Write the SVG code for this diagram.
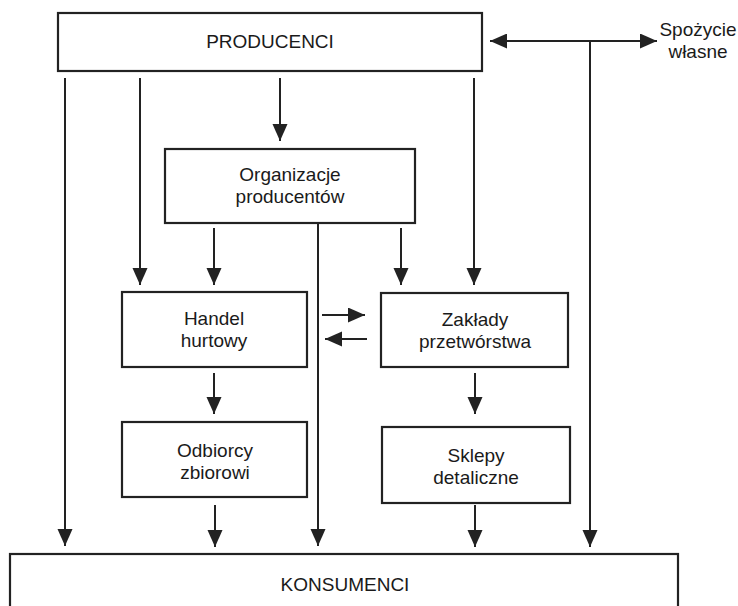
<svg xmlns="http://www.w3.org/2000/svg" width="738" height="606" viewBox="0 0 738 606">
<style>
.box{fill:#fff;stroke:#222;stroke-width:2.2}
.lbl{font-family:"Liberation Sans",Arial,sans-serif;font-size:19px;fill:#1a1a1a;text-anchor:middle}
.cn{stroke:#222;stroke-width:2;fill:none}
.ar{marker-end:url(#ah)}
</style>
<defs>
<marker id="ah" markerUnits="userSpaceOnUse" markerWidth="18" markerHeight="16" refX="17" refY="7.5" orient="auto">
<path d="M0,0 L17,7.5 L0,15 z" fill="#222"/>
</marker>
<marker id="ahs" markerUnits="userSpaceOnUse" markerWidth="18" markerHeight="16" refX="1" refY="7.5" orient="auto">
<path d="M18,0 L1,7.5 L18,15 z" fill="#222"/>
</marker>
</defs>
<rect width="738" height="606" fill="#fff"/>
<g id="connectors">
<line class="cn ar" x1="65" y1="78" x2="65" y2="546"/>
<line class="cn ar" x1="140" y1="78" x2="140" y2="285"/>
<line class="cn ar" x1="280" y1="78" x2="280" y2="141"/>
<line class="cn ar" x1="474" y1="78" x2="474" y2="285"/>
<line class="cn ar" x1="214" y1="228" x2="214" y2="285"/>
<line class="cn ar" x1="401" y1="228" x2="401" y2="285"/>
<line class="cn ar" x1="318" y1="223" x2="318" y2="546"/>
<line class="cn ar" x1="322" y1="315" x2="365" y2="315"/>
<line class="cn ar" x1="367" y1="339" x2="325" y2="339"/>
<line class="cn ar" x1="214" y1="373" x2="214" y2="414"/>
<line class="cn ar" x1="475" y1="373" x2="475" y2="414"/>
<line class="cn ar" x1="215" y1="505" x2="215" y2="547"/>
<line class="cn ar" x1="475" y1="505" x2="475" y2="547"/>
<line class="cn ar" x1="590" y1="41" x2="590" y2="547"/>
<line class="cn ar" x1="490" y1="41" x2="657" y2="41" marker-start="url(#ahs)"/>
</g>
<g id="producenci"><rect class="box" x="58" y="13" width="424" height="58"/><text class="lbl" x="270" y="48">PRODUCENCI</text></g>
<g id="spozycie"><text class="lbl" x="698" y="36">Spożycie</text><text class="lbl" x="698" y="58">własne</text></g>
<g id="organizacje"><rect class="box" x="165" y="149" width="250" height="74"/><text class="lbl" x="290" y="181">Organizacje</text><text class="lbl" x="290" y="203">producentów</text></g>
<g id="handel"><rect class="box" x="122" y="292" width="185" height="75"/><text class="lbl" x="214" y="325">Handel</text><text class="lbl" x="214" y="347">hurtowy</text></g>
<g id="zaklady"><rect class="box" x="381" y="293" width="187" height="74"/><text class="lbl" x="475" y="326">Zakłady</text><text class="lbl" x="475" y="348">przetwórstwa</text></g>
<g id="odbiorcy"><rect class="box" x="122" y="422" width="185" height="75"/><text class="lbl" x="215" y="457">Odbiorcy</text><text class="lbl" x="215" y="479">zbiorowi</text></g>
<g id="sklepy"><rect class="box" x="382" y="427" width="188" height="76"/><text class="lbl" x="476" y="462">Sklepy</text><text class="lbl" x="476" y="484">detaliczne</text></g>
<g id="konsumenci"><rect class="box" x="10" y="554" width="668" height="60"/><text class="lbl" x="345" y="591">KONSUMENCI</text></g>
</svg>
